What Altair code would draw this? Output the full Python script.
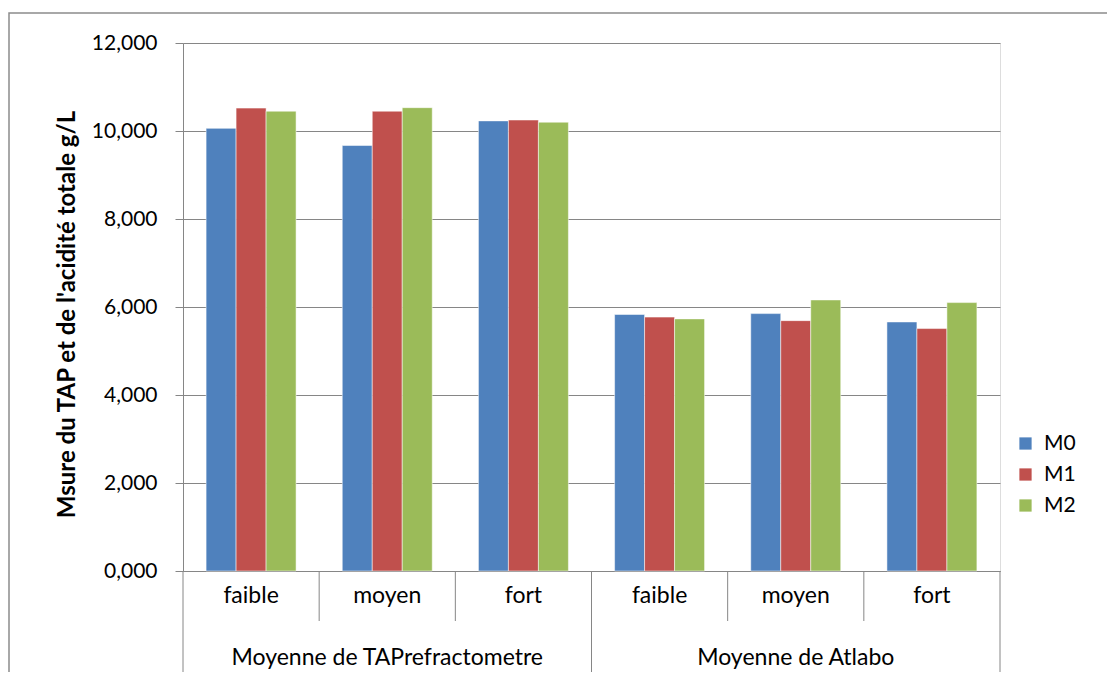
import altair as alt
import pandas as pd

groups = ["Moyenne de TAPrefractometre", "Moyenne de Atlabo"]
levels = ["faible", "moyen", "fort"]
series = ["M0", "M1", "M2"]
colors = ["#4F81BD", "#C0504D", "#9BBB59"]

m0 = [10.06, 9.67, 10.23, 5.83, 5.85, 5.66]
m1 = [10.52, 10.45, 10.25, 5.77, 5.69, 5.51]
m2 = [10.45, 10.53, 10.20, 5.73, 6.16, 6.10]

y_title = "Msure du TAP et de l'acidité totale g/L"

FONT = "Lato"
W, H = 817, 528

keys = [f"{gi}|{lv}" for gi in range(len(groups)) for lv in levels]

rows = []
for s, vals in zip(series, [m0, m1, m2]):
    for k, v in zip(keys, vals):
        rows.append({"key": k, "serie": s, "value": v})
df = pd.DataFrame(rows)

xscale = alt.Scale(domain=keys, paddingInner=0, paddingOuter=0)

bars = alt.Chart(df).mark_bar(stroke="white", strokeOpacity=0.5, strokeWidth=1).encode(
    x=alt.X("key:N", scale=xscale, sort=keys, title=None,
            axis=alt.Axis(labels=False, ticks=False, domain=True, domainColor="#868686",
                          grid=False)),
    xOffset=alt.XOffset("serie:N", scale=alt.Scale(domain=series, paddingInner=0, paddingOuter=0.77)),
    y=alt.Y("value:Q", scale=alt.Scale(domain=[0, 12], nice=False), title=y_title,
            axis=alt.Axis(values=[0, 2, 4, 6, 8, 10, 12],
                          labelExpr="replace(format(datum.value, '.3f'), '.', ',')",
                          domainColor="#868686", gridColor="#868686", tickColor="#868686",
                          tickSize=8, labelPadding=18, labelFont=FONT, labelFontSize=21,
                          labelColor="black", titleFont=FONT, titleFontSize=24,
                          titleFontWeight="bold", titleColor="black", titlePadding=12,
                          titleY=271)),
    color=alt.Color("serie:N", scale=alt.Scale(domain=series, range=colors),
                    legend=alt.Legend(title=None, orient="none", legendX=832, legendY=390,
                                      symbolType="square", symbolSize=150, symbolStrokeWidth=0,
                                      labelFont=FONT, labelFontSize=21, labelColor="black",
                                      rowPadding=9, labelOffset=8)),
)

sub_df = pd.DataFrame({"key": keys, "label": [k.split("|")[1] for k in keys]})
sub_text = alt.Chart(sub_df).mark_text(font=FONT, fontSize=23, color="black", baseline="middle").encode(
    x=alt.X("key:N", scale=xscale, sort=keys),
    y=alt.value(H + 25),
    text="label:N",
)

short_df = pd.DataFrame({"key": [f"{gi}|{lv}" for gi in range(len(groups)) for lv in levels[1:]]})
short_rules = alt.Chart(short_df).mark_rule(color="#868686", strokeWidth=1).encode(
    x=alt.X("key:N", scale=xscale, sort=keys, bandPosition=0),
    y=alt.value(H), y2=alt.value(H + 50),
)

long_start_df = pd.DataFrame({"key": [f"{gi}|{levels[0]}" for gi in range(len(groups))]})
long_start = alt.Chart(long_start_df).mark_rule(color="#868686", strokeWidth=1).encode(
    x=alt.X("key:N", scale=xscale, sort=keys, bandPosition=0),
    y=alt.value(H), y2=alt.value(H + 102),
)
long_end_df = pd.DataFrame({"key": [f"{len(groups)-1}|{levels[-1]}"]})
long_end = alt.Chart(long_end_df).mark_rule(color="#868686", strokeWidth=1).encode(
    x=alt.X("key:N", scale=xscale, sort=keys, bandPosition=1),
    y=alt.value(H), y2=alt.value(H + 102),
)

grp_df = pd.DataFrame({"key": [f"{gi}|{levels[1]}" for gi in range(len(groups))], "label": groups})
grp_text = alt.Chart(grp_df).mark_text(font=FONT, fontSize=23, color="black", baseline="middle").encode(
    x=alt.X("key:N", scale=xscale, sort=keys),
    y=alt.value(H + 87),
    text="label:N",
)

border = alt.Chart(pd.DataFrame({"a": [0]})).mark_rect(
    fillOpacity=0, stroke="#8c8c8c", strokeWidth=1.5
).encode(
    x=alt.value(-174), x2=alt.value(1000), y=alt.value(-30), y2=alt.value(720)
)

chart = alt.layer(border, bars, sub_text, short_rules, long_start, long_end, grp_text).properties(
    width=W, height=H,
    autosize=alt.AutoSizeParams(type="none"),
    padding={"left": 175, "top": 35, "right": 107, "bottom": 101},
).configure_view(stroke=None).configure(background="white")

chart.save("out.html", embed_options={"renderer": "svg", "actions": False})
